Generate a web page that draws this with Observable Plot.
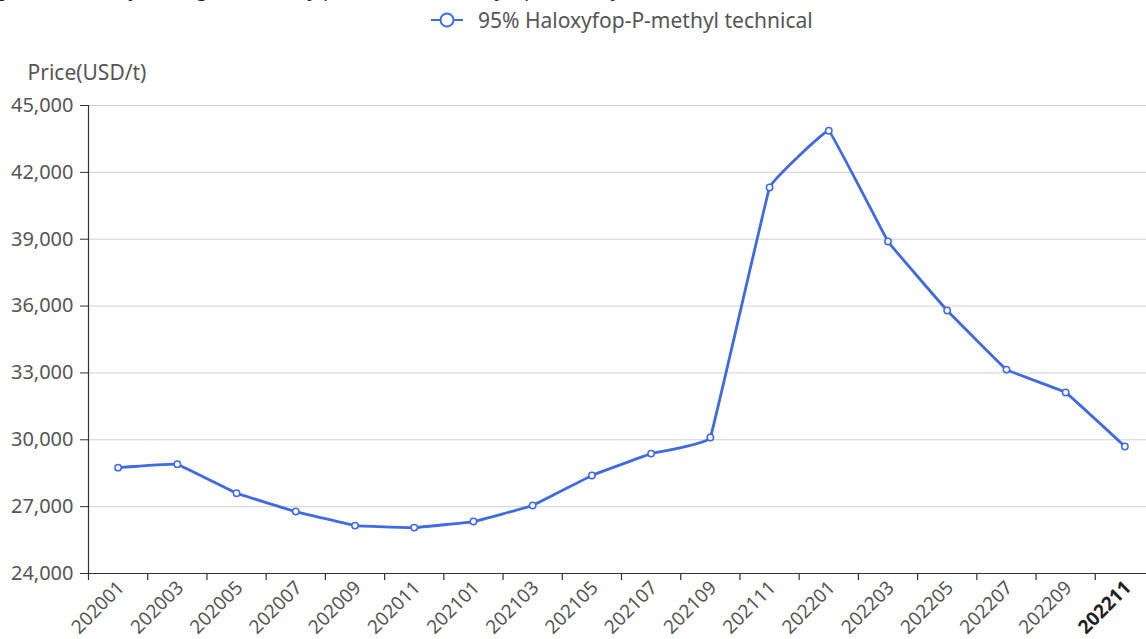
<!DOCTYPE html>
<html>
<head>
<meta charset="utf-8">
<script src="https://cdn.jsdelivr.net/npm/d3@7"></script>
<script src="https://cdn.jsdelivr.net/npm/@observablehq/plot@0.6"></script>
<style>
  html, body { margin: 0; padding: 0; background: #fff; overflow: hidden; }
  body { width: 1146px; height: 639px; font-family: "Noto Sans", "Open Sans", sans-serif; }
  #header { position: relative; width: 1146px; height: 40px; overflow: hidden; }
  #title { position: absolute; left: -20px; top: -21px; font-size: 20px; line-height: 20px; color: #222; white-space: nowrap; }
  #legend { position: absolute; left: 430px; top: 6px; display: flex; align-items: center; font-size: 21px; color: #555; }
  #legend svg { margin-right: 14px; }
  #chart svg { display: block; }
</style>
</head>
<body>
<div id="header">
  <div id="title">Figure 1 Monthly average ex-factory price of 95% haloxyfop-P-methyl technical in China, 2020-2022</div>
  <div id="legend"><svg width="34" height="18"><line x1="1" x2="33" y1="9" y2="9" stroke="#3f6ae0" stroke-width="2"/><circle cx="17" cy="9" r="6.5" fill="#fff" stroke="#3f6ae0" stroke-width="2"/></svg><span id="legendText"></span></div>
</div>
<div id="chart"></div>
<script>
const seriesName = "95% Haloxyfop-P-methyl technical";
const yLabel = "Price(USD/t)";
const months = ["202001","202003","202005","202007","202009","202011",
                "202101","202103","202105","202107","202109","202111",
                "202201","202203","202205","202207","202209","202211"];
const prices = [28750, 28900, 27600, 26780, 26150, 26060,
                26330, 27050, 28400, 29380, 30100, 41320,
                43870, 38900, 35800, 33150, 32120, 29700];
const yTicks = [24000, 27000, 30000, 33000, 36000, 39000, 42000, 45000];
const highlightMonth = "202211";

document.getElementById("legendText").textContent = seriesName;

const rows = months.map((m, i) => ({month: m, pos: i + 0.5, price: prices[i]}));
const boundaries = d3.range(months.length + 1);

const blue = "#3f6ae0";
const textColor = "#555";
const fs = 20;
const xfs = 19;

const chart = Plot.plot({
  width: 1146,
  height: 599,
  marginLeft: 88,
  marginRight: -8,
  marginTop: 65,
  marginBottom: 66,
  style: {fontFamily: "'Noto Sans', sans-serif", fontSize: fs + "px", color: textColor, background: "#fff"},
  x: {type: "linear", domain: [0, months.length], axis: null},
  y: {type: "linear", domain: [24000, 45000], axis: null},
  marks: [
    Plot.gridY(yTicks, {stroke: "#d0d0d0", strokeOpacity: 1, strokeWidth: 1}),
    Plot.axisY({ticks: yTicks, tickFormat: d3.format(","), tickSize: 8, tickPadding: 7, stroke: "#333", fill: textColor, fontSize: fs, label: null}),
    Plot.ruleX([0], {stroke: "#333", strokeWidth: 1.2}),
    Plot.ruleY([24000], {stroke: "#333", strokeWidth: 1.2}),
    Plot.ruleX(boundaries, {x: d => d, y1: 24000, y2: 24000, insetBottom: -7, stroke: "#333", strokeWidth: 1.2}),
    Plot.text([yLabel], {frameAnchor: "top-left", textAnchor: "start", dx: -61, dy: -40, fill: textColor, fontSize: 21}),
    Plot.text(rows.filter(d => d.month !== highlightMonth), {x: "pos", y: () => 24000, text: "month", rotate: -45, textAnchor: "end", dy: 11, dx: 3, fill: textColor, fontSize: xfs}),
    Plot.text(rows.filter(d => d.month === highlightMonth), {x: "pos", y: () => 24000, text: "month", rotate: -45, textAnchor: "end", dy: 11, dx: 3, fill: "#222", fontSize: xfs, fontWeight: "bold"}),
    Plot.line(rows, {x: "pos", y: "price", stroke: blue, strokeWidth: 2.8, curve: "cardinal", tension: 0.85}),
    Plot.dot(rows, {x: "pos", y: "price", r: 3.2, fill: "#fff", stroke: blue, strokeWidth: 1.5})
  ]
});
document.getElementById("chart").appendChild(chart);
</script>
</body>
</html>
